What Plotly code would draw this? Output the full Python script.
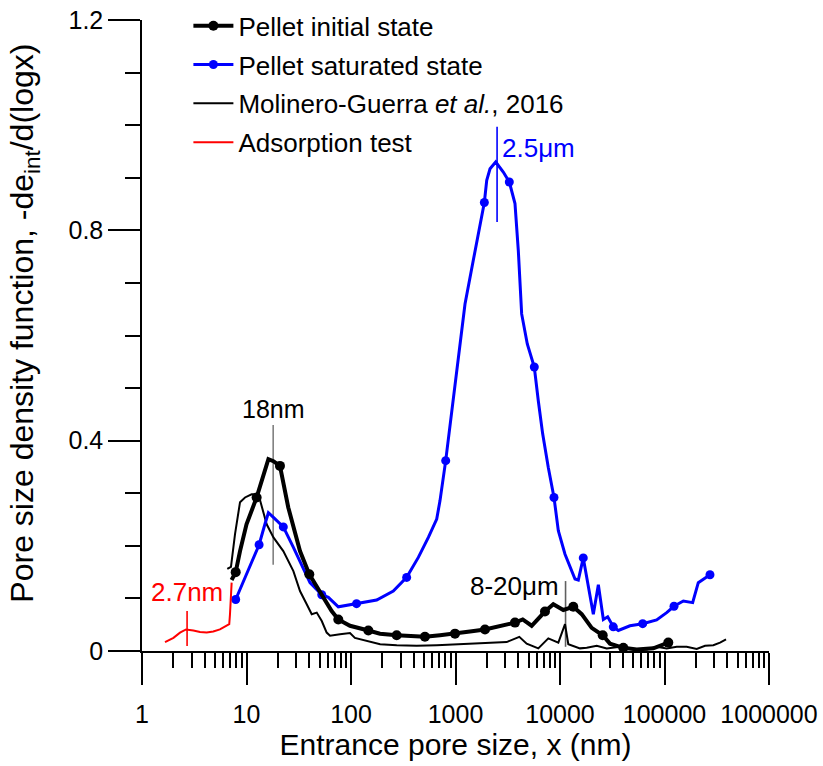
import numpy as np
import plotly.graph_objects as go

# ---------------- data ----------------
# Adsorption test (red)
ads_x = [1.66, 2.0, 2.31, 2.64, 3.10, 3.59, 4.16, 4.81, 5.57, 6.55, 6.84, 6.95, 7.06, 7.21]
ads_y = [0.017, 0.025, 0.035, 0.041, 0.039, 0.036, 0.035, 0.037, 0.041, 0.048, 0.051, 0.070, 0.101, 0.130]

# Pellet initial state (thick black) - line
init_x = [7.2, 7.88, 8.67, 10.0, 12.5, 14.0, 16.2, 18.1, 20.9, 25.1, 32.5, 39.9, 52.5, 65.3, 75.6,
          97.8, 146.6, 189.6, 273.6, 381, 510, 711, 989, 1376, 1915, 2667, 3709, 4395, 5357,
          7180, 8630, 10760, 13400, 16130, 20100, 25630, 30080, 40360, 54200, 78200, 108700]
init_y = [0.135, 0.150, 0.190, 0.241, 0.292, 0.324, 0.365, 0.361, 0.352, 0.273, 0.190, 0.146, 0.108, 0.076, 0.060,
          0.048, 0.039, 0.033, 0.030, 0.029, 0.027, 0.030, 0.033, 0.037, 0.041, 0.048, 0.054, 0.060, 0.048,
          0.075, 0.089, 0.078, 0.084, 0.070, 0.044, 0.030, 0.014, 0.006, 0.003, 0.005, 0.016]
# Pellet initial state - measured points (markers)
init_mx = [7.88, 12.5, 20.9, 39.9, 75.6, 146.6, 273.6, 510, 989, 1915, 3709, 7180, 13400, 25630, 40360, 108700]
init_my = [0.150, 0.292, 0.352, 0.146, 0.060, 0.039, 0.030, 0.027, 0.033, 0.041, 0.054, 0.075, 0.084, 0.030, 0.006, 0.016]

# Pellet saturated state (blue) - line
sat_x = [7.88, 13.2, 15.0, 16.2, 18.1, 22.5, 28.1, 35.0, 40.5, 52.5, 60.7, 75.6, 113, 176, 254, 341, 441,
         550, 661, 711, 806, 989, 1233, 1480, 1888, 1990, 2140, 2426, 2866, 3273, 3709, 3990, 4296,
         4864, 5675, 6198, 6826, 7728, 8762, 9636, 11170, 13920, 14970, 16700, 18660, 20840, 23280,
         26000, 28600, 32360, 36140, 46750, 61850, 84140, 104900, 123300, 151400, 186000, 210500, 272400]
sat_y = [0.098, 0.202, 0.241, 0.263, 0.254, 0.236, 0.197, 0.156, 0.130, 0.107, 0.102, 0.084, 0.090, 0.097,
         0.114, 0.140, 0.178, 0.216, 0.251, 0.286, 0.362, 0.508, 0.660, 0.743, 0.853, 0.895, 0.917, 0.930,
         0.911, 0.892, 0.851, 0.762, 0.641, 0.584, 0.540, 0.476, 0.413, 0.349, 0.292, 0.229, 0.184, 0.137,
         0.135, 0.177, 0.121, 0.070, 0.126, 0.060, 0.065, 0.046, 0.039, 0.048, 0.052, 0.059, 0.073, 0.085,
         0.095, 0.092, 0.130, 0.145]
# Pellet saturated state - measured points (markers)
sat_mx = [7.88, 13.2, 22.5, 52.5, 113, 341, 806, 1888, 3273, 5675, 8762, 16700, 32360, 61850, 123300, 272400]
sat_my = [0.098, 0.202, 0.236, 0.107, 0.090, 0.140, 0.362, 0.853, 0.892, 0.540, 0.292, 0.177, 0.046, 0.052, 0.085, 0.145]

# Molinero-Guerra et al., 2016 (thin black)
mol_x = [6.55, 7.1, 7.76, 8.67, 9.68, 11.2, 13.0, 15.6, 18.1, 22.5, 28.1, 32.5, 37.7, 42.1, 47.0, 52.5,
         58.5, 63, 78.5, 97.8, 109, 141, 190, 274, 425, 661, 1026, 1480, 2138, 3090, 4080, 4800, 6200,
         7730, 9640, 11170, 12010, 15530, 18020, 22460, 27990, 37500, 50250, 67560, 84140, 105000,
         130900, 163000, 203400, 244200, 293300, 340000, 388000]
mol_y = [0.156, 0.160, 0.222, 0.283, 0.292, 0.298, 0.298, 0.241, 0.216, 0.190, 0.152, 0.114, 0.089, 0.070,
         0.073, 0.057, 0.035, 0.029, 0.032, 0.034, 0.025, 0.019, 0.013, 0.011, 0.010, 0.011, 0.013, 0.014,
         0.016, 0.017, 0.027, 0.014, 0.005, 0.024, 0.016, 0.051, 0.013, 0.005, 0.006, 0.010, 0.005, 0.008,
         0.004, 0.003, 0.008, 0.005, 0.008, 0.008, 0.004, 0.010, 0.011, 0.016, 0.022]

# Annotated pore sizes
ann_text = ["18nm", "2.7nm", "2.5\u03bcm", "8-20\u03bcm"]
ann_x = [18, 2.7, 2500, 11300]
ann_line_y0 = [0.164, 0.0095, 0.816, 0.008]
ann_line_y1 = [0.430, 0.076, 0.997, 0.133]
ann_color = ["#808080", "#FF0000", "#0000FF", "#606060"]
ann_txt_color = ["#000000", "#FF0000", "#0000FF", "#000000"]

x_ticks = [1, 10, 100, 1000, 10000, 100000, 1000000]
x_tick_labels = ["1", "10", "100", "1000", "10000", "100000", "1000000"]
y_ticks = [0, 0.4, 0.8, 1.2]
y_tick_labels = ["0", "0.4", "0.8", "1.2"]

# ---------------- figure ----------------
FONT = "Arial, Liberation Sans, Helvetica, sans-serif"
fig = go.Figure()

# annotation marker lines (drawn first, beneath curves)
for i in range(len(ann_x)):
    fig.add_trace(go.Scatter(x=[ann_x[i], ann_x[i]], y=[ann_line_y0[i], ann_line_y1[i]], mode="lines",
                             line=dict(color=ann_color[i], width=1.6), showlegend=False, hoverinfo="skip"))

fig.add_trace(go.Scatter(x=mol_x, y=mol_y, mode="lines", line=dict(color="black", width=2),
                         showlegend=False))
fig.add_trace(go.Scatter(x=sat_x, y=sat_y, mode="lines", line=dict(color="#0000FF", width=3),
                         showlegend=False))
fig.add_trace(go.Scatter(x=sat_mx, y=sat_my, mode="markers", marker=dict(color="#0000FF", size=9),
                         showlegend=False))
fig.add_trace(go.Scatter(x=init_x, y=init_y, mode="lines", line=dict(color="black", width=4),
                         showlegend=False))
fig.add_trace(go.Scatter(x=init_mx, y=init_my, mode="markers", marker=dict(color="black", size=10),
                         showlegend=False))
fig.add_trace(go.Scatter(x=ads_x, y=ads_y, mode="lines", line=dict(color="#FF0000", width=2),
                         showlegend=False))

# legend entries
fig.add_trace(go.Scatter(x=[None], y=[None], mode="lines+markers", name="Pellet initial state",
                         line=dict(color="black", width=4), marker=dict(color="black", size=10),
                         legendgroup="a"))
fig.add_trace(go.Scatter(x=[None], y=[None], mode="lines+markers", name="Pellet saturated state",
                         line=dict(color="#0000FF", width=3), marker=dict(color="#0000FF", size=9),
                         legendgroup="b"))
fig.add_trace(go.Scatter(x=[None], y=[None], mode="lines", name="Molinero-Guerra <i>et al.</i>, 2016",
                         line=dict(color="black", width=2), legendgroup="c"))
fig.add_trace(go.Scatter(x=[None], y=[None], mode="lines", name="Adsorption test",
                         line=dict(color="#FF0000", width=2), legendgroup="d"))

annotations = []
ann_pos = [
    dict(xanchor="center", yanchor="bottom", y=ann_line_y1[0], yshift=0, xshift=0, size=25),
    dict(xanchor="center", yanchor="bottom", y=ann_line_y1[1], yshift=2, xshift=0, size=26),
    dict(xanchor="left", yanchor="middle", y=0.956, yshift=0, xshift=3, size=26),
    dict(xanchor="right", yanchor="middle", y=0.124, yshift=0, xshift=-5, size=26),
]
for i in range(len(ann_x)):
    p = ann_pos[i]
    annotations.append(dict(x=np.log10(ann_x[i]), y=p["y"], xref="x", yref="y", text=ann_text[i],
                            showarrow=False, xanchor=p["xanchor"], yanchor=p["yanchor"],
                            xshift=p["xshift"], yshift=p["yshift"],
                            font=dict(family=FONT, size=p["size"], color=ann_txt_color[i])))

# y-axis title placed as a rotated annotation
annotations.append(dict(x=-0.187, y=0.52, xref="paper", yref="paper", textangle=-90,
                        text="Pore size density function, -de<sub>int</sub>/d(logx)", showarrow=False,
                        xanchor="center", yanchor="middle", font=dict(family=FONT, size=32, color="black")))

minor_x = [m * 10 ** d for d in range(6) for m in range(2, 10)]

fig.update_layout(
    width=823, height=766,
    margin=dict(l=142, r=54, t=20, b=115, autoexpand=False),
    plot_bgcolor="white", paper_bgcolor="white",
    font=dict(family=FONT, size=25, color="black"),
    annotations=annotations,
    legend=dict(x=0.074, y=1.028, xanchor="left", yanchor="top", bgcolor="rgba(0,0,0,0)",
                font=dict(family=FONT, size=26, color="black"), traceorder="grouped",
                tracegroupgap=2, itemwidth=40),
    xaxis=dict(type="log", range=[0, 6], tickmode="array", tickvals=x_ticks, ticktext=x_tick_labels,
               ticks="outside", ticklen=32, tickwidth=1.5, tickcolor="black",
               showline=True, linecolor="black", linewidth=1.5, showgrid=False, zeroline=False,
               tickfont=dict(family=FONT, size=25), ticklabelstandoff=8,
               minor=dict(tickmode="array", tickvals=minor_x, ticks="outside", ticklen=15,
                          tickwidth=1.5, tickcolor="black", showgrid=False),
               title=dict(text="Entrance pore size, x (nm)", font=dict(family=FONT, size=30), standoff=6)),
    yaxis=dict(range=[0, 1.2], tickmode="array", tickvals=y_ticks, ticktext=y_tick_labels,
               ticks="outside", ticklen=32, tickwidth=1.5, tickcolor="black",
               showline=True, linecolor="black", linewidth=1.5, showgrid=False, zeroline=False,
               tickfont=dict(family=FONT, size=25),
               minor=dict(dtick=0.1, ticks="outside", ticklen=15, tickwidth=1.5, tickcolor="black",
                          showgrid=False)),
)

fig.write_html("out.html")
